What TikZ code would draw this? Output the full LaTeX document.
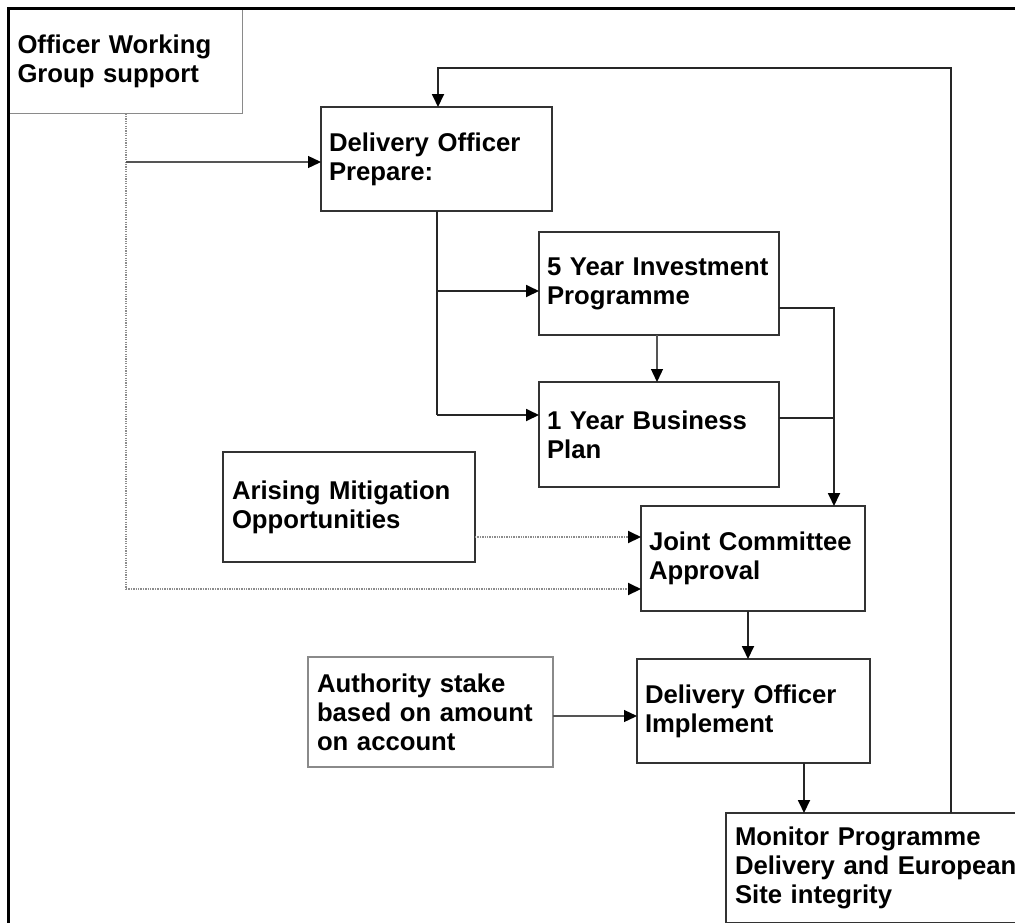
\documentclass[tikz,border=0pt]{standalone}
\usepackage{fontspec}
\setmainfont{Liberation Sans}
\usetikzlibrary{arrows.meta}
\definecolor{boxc}{HTML}{333333}
\definecolor{palec}{HTML}{8A8A8A}
\definecolor{linec}{HTML}{262626}
\definecolor{lightc}{HTML}{555555}
\definecolor{dotc}{HTML}{8C8C8C}
\begin{document}
\begin{tikzpicture}[x=1pt,y=-1pt,
  box/.style={draw=boxc, line width=2pt, rectangle, anchor=north west, align=left,
    inner xsep=8pt, inner ysep=0pt, outer sep=0pt,
    font=\bfseries\fontsize{25.7}{29}\selectfont},
  pale/.style={draw=palec, line width=1.5pt},
  conn/.style={draw=linec, line width=1.8pt},
  lite/.style={draw=lightc, line width=1.3pt},
  arr/.style={-{Triangle[length=13pt,width=12pt,color=black]}},
  dots/.style={draw=dotc, line width=2pt, dash pattern=on 1.3pt off 1.1pt},
]
\clip (0,0) rectangle (1015,922);
\fill[white] (0,0) rectangle (1015,922);

% boxes
\node[box,pale,text width=217pt,minimum height=104pt] (owg) at (9.5,9.5) {Officer Working\\Group support};
\node[box,text width=215pt,minimum height=104pt] (dop) at (321,107) {Delivery Officer\\Prepare:};
\node[box,text width=224pt,minimum height=103pt] (fyip) at (539,232) {5 Year Investment\\Programme};
\node[box,text width=224pt,minimum height=105pt] (oybp) at (539,382) {1 Year Business\\Plan};
\node[box,text width=234pt,inner xsep=9pt,minimum height=110pt] (amo) at (223,452) {Arising Mitigation\\Opportunities};
\node[box,text width=208pt,minimum height=105pt] (jca) at (641,506) {Joint Committee\\Approval};
\node[box,pale,text width=227pt,inner xsep=9pt,minimum height=110pt] (auth) at (308,657) {Authority stake\\based on amount\\on account};
\node[box,text width=217pt,minimum height=104pt] (doi) at (637,659) {Delivery Officer\\Implement};
\node[box,text width=292pt,inner xsep=9pt,minimum height=110pt] (mon) at (726,813) {Monitor Programme\\Delivery and European\\Site integrity};

% helper coordinates
\coordinate (b1) at (126,589);
\coordinate (b2) at (126,162);
\coordinate (t1) at (951,68);
\coordinate (t2) at (438,68);
\coordinate (v1) at (437,291);
\coordinate (v2) at (437,415);
\coordinate (c1) at (657,0);
\coordinate (r1) at (834,308);
\coordinate (r2) at (834,418);
\coordinate (a1) at (0,537);
\coordinate (c2) at (748,0);
\coordinate (a2) at (0,716);
\coordinate (c3) at (804,0);

% dotted connectors
\draw[dots] (owg.south -| b1) -- (b1);
\draw[dots,arr] (b1) -- (b1 -| jca.west);
\draw[dots,arr] (amo.east |- a1) -- (jca.west |- a1);

% solid connectors
\draw[lite,arr] (b2) -- (b2 -| dop.west);
\draw[conn,arr] (mon.north -| t1) -- (t1) -- (t2) -- (t2 |- dop.north);
\draw[conn] (dop.south -| v1) -- (v2);
\draw[conn,arr] (v1) -- (v1 -| fyip.west);
\draw[conn,arr] (v2) -- (v2 -| oybp.west);
\draw[lite,arr] (fyip.south -| c1) -- (oybp.north -| c1);
\draw[conn] (fyip.east |- r1) -- (r1) -- (r2);
\draw[conn] (oybp.east |- r2) -- (r2);
\draw[conn,arr] (r2) -- (r2 |- jca.north);
\draw[conn,arr] (jca.south -| c2) -- (doi.north -| c2);
\draw[lite,arr] (auth.east |- a2) -- (doi.west |- a2);
\draw[conn,arr] (doi.south -| c3) -- (mon.north -| c3);

% page frame
\draw[line width=3pt, line cap=rect] (1015,8) -- (8,8) -- (8,922);
\end{tikzpicture}
\end{document}
